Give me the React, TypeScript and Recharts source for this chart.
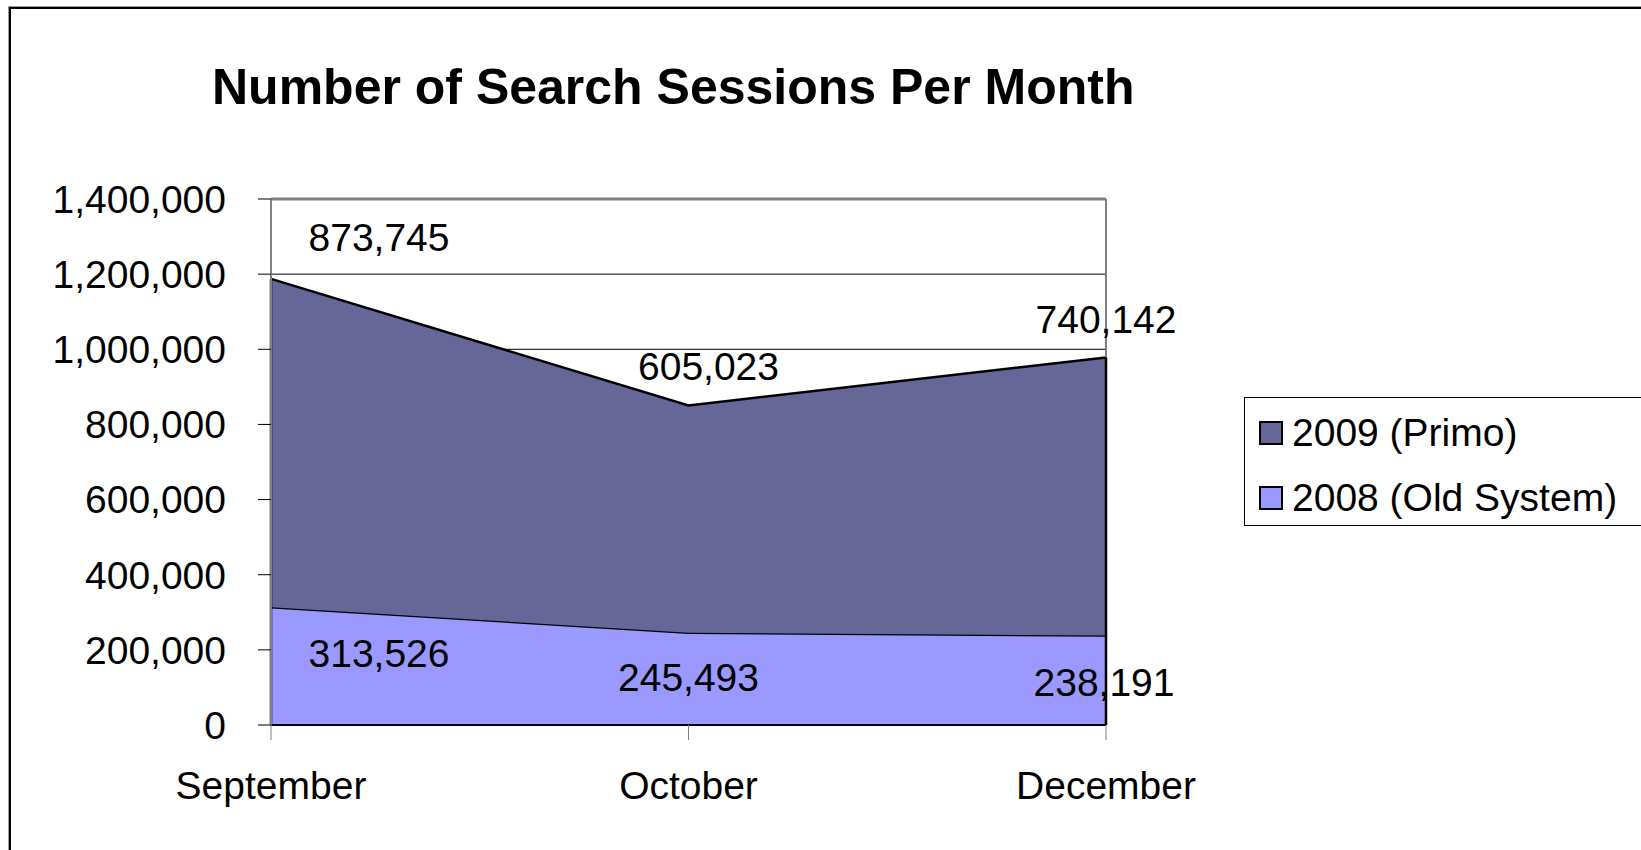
import React from 'react';
import { AreaChart, Area, XAxis, YAxis, CartesianGrid, ReferenceLine, LabelList } from 'recharts';

const months = ['September', 'October', 'December'];
const old2008 = [313526, 245493, 238191];
const primo2009 = [873745, 605023, 740142];
const yTicks = [0, 200000, 400000, 600000, 800000, 1000000, 1200000, 1400000];
const seriesNames = ['2009 (Primo)', '2008 (Old System)'];
const seriesColors = ['#666699', '#9999FF'];

const data = months.map((m, i) => ({ month: m, old: old2008[i], primo: primo2009[i], total: old2008[i] + primo2009[i] }));

const FONT = '"Liberation Sans", Arial, sans-serif';
const fmt = (v: number) => v.toLocaleString('en-US');

const topOffsets = [[108, -41], [20, -39], [0, -38]];
const bottomOffsets = [[108, 46], [0, 45], [-2, 47]];

const makeLabel = (vals: number[], offs: number[][]) => (props: any) => {
  const { x, y, index } = props;
  if (x == null || y == null) return null;
  const [dx, dy] = offs[index] || [0, 0];
  return (
    <text x={x + dx} y={y + dy} textAnchor="middle" dominantBaseline="central" fontSize={39} fontFamily={FONT} fill="#000">
      {fmt(vals[index])}
    </text>
  );
};

const LegendBox = () => (
  <div style={{ position: 'absolute', left: 1244, top: 397, width: 400, height: 129, border: '1px solid #000', background: '#fff', boxSizing: 'border-box', fontFamily: FONT, fontSize: 39, color: '#000' }}>
    {seriesNames.map((n, i) => (
      <div key={n} style={{ position: 'absolute', left: 14, top: 12 + i * 65, height: 46, display: 'flex', alignItems: 'center', whiteSpace: 'nowrap' }}>
        <span style={{ display: 'inline-block', width: 20, height: 20, border: '2px solid #000', background: seriesColors[i], marginRight: 9 }} />
        <span style={{ lineHeight: '46px' }}>{n}</span>
      </div>
    ))}
  </div>
);

export default function App() {
  return (
    <div style={{ position: 'absolute', left: 0, top: 0, width: 1641, height: 850, overflow: 'hidden', background: '#fff' }}>
      <div style={{ position: 'absolute', left: 9, top: 7, width: 1700, height: 900, border: '2px solid #000', boxShadow: '-1px -1px 0 #999' }} />
      <div style={{ position: 'absolute', left: 212, top: 62, fontFamily: FONT, fontWeight: 'bold', fontSize: 50, lineHeight: 1, whiteSpace: 'nowrap', color: '#000' }}>
        Number of Search Sessions Per Month
      </div>
      <div style={{ position: 'absolute', left: 0, top: 0 }}>
        <AreaChart width={1641} height={850} data={data} margin={{ top: 199, right: 535, bottom: 0, left: 0 }}>
          <CartesianGrid vertical={false} stroke="#000" strokeWidth={1} />
          <XAxis
            dataKey="month"
            height={125}
            axisLine={{ stroke: '#000', strokeWidth: 2 }}
            tickLine={{ stroke: '#808080', strokeWidth: 1 }}
            tickSize={15}
            tickMargin={31}
            tick={{ fontSize: 39, fontFamily: FONT, fill: '#000' }}
            interval={0}
          />
          <YAxis
            width={271}
            domain={[0, 1400000]}
            ticks={yTicks}
            tickFormatter={fmt}
            axisLine={{ stroke: '#808080', strokeWidth: 2 }}
            tickLine={{ stroke: '#000', strokeWidth: 1 }}
            tickSize={13}
            tickMargin={32}
            tick={{ fontSize: 39, fontFamily: FONT, fill: '#000' }}
            interval={0}
          />
          <ReferenceLine y={1400000} stroke="#808080" strokeWidth={3} />
          <ReferenceLine x="December" stroke="#808080" strokeWidth={2} />
          <Area type="linear" dataKey="old" name={seriesNames[1]} stackId="s" fill={seriesColors[1]} fillOpacity={1} stroke="#000" strokeWidth={2.5} isAnimationActive={false} dot={false} activeDot={false}>
            <LabelList dataKey="old" content={makeLabel(old2008, bottomOffsets)} />
          </Area>
          <Area type="linear" dataKey="primo" name={seriesNames[0]} stackId="s" fill={seriesColors[0]} fillOpacity={1} stroke="#000" strokeWidth={2.5} isAnimationActive={false} dot={false} activeDot={false}>
            <LabelList dataKey="primo" content={makeLabel(primo2009, topOffsets)} />
          </Area>
          <ReferenceLine segment={[{ x: 'December', y: 0 }, { x: 'December', y: data[2].total }]} stroke="#000" strokeWidth={2.5} />
          <ReferenceLine segment={[{ x: 'September', y: 0 }, { x: 'September', y: data[0].total }]} stroke="#000" strokeWidth={2.5} />
        </AreaChart>
      </div>
      <LegendBox />
    </div>
  );
}
